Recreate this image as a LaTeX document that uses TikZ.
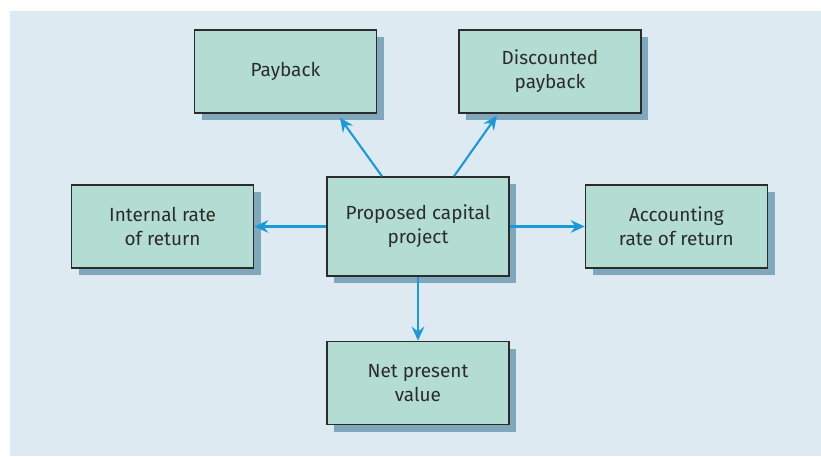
\documentclass[tikz,border=0pt]{standalone}
\usepackage{fontspec}
\setmainfont{Fira Sans}
\usepackage{tikz}
\usetikzlibrary{arrows.meta,shapes,positioning,shadows}

\definecolor{panelbg}{HTML}{DEEAF2}
\definecolor{boxfill}{HTML}{B3DDD2}
\definecolor{boxshadow}{HTML}{7FA8BD}
\definecolor{boxline}{HTML}{2B2B2B}
\definecolor{linkblue}{HTML}{1B9AD7}

\begin{document}
\begin{tikzpicture}[
    method/.style={rectangle, draw=boxline, line width=1pt, fill=boxfill,
      minimum width=4.55cm, minimum height=2.075cm, text centered, align=center,
      text=boxline, font=\fontsize{13.5}{17}\selectfont,
      drop shadow={shadow xshift=0.18cm, shadow yshift=-0.18cm, fill=boxshadow, opacity=1}},
    arrow/.style={draw=linkblue, line width=1.5pt,
      -{Stealth[length=10pt, width=9pt, inset=3.5pt]}}
  ]
    % Panel
    \useasboundingbox (0,0) rectangle (20.525,-11.4);
    \fill[panelbg] (0.25,-0.275) rectangle (20.525,-11.4);

    % Nodes
    \node[method, minimum height=2.475cm] (proj) at (10.45,-5.6625) {Proposed capital\\project};
    \node[method, left=1.8cm of proj] (irr) {Internal rate\\of return};
    \node[method, right=1.875cm of proj] (arr) {Accounting\\rate of return};
    \node[method, below=1.6cm of proj] (npv) {Net present\\value};
    \node[method] (pay) at (7.1375,-1.7875) {Payback};
    \node[method] (dpay) at (13.75,-1.7875) {Discounted\\payback};

    % Arrows
    \draw[arrow] ([xshift=-0.9cm]proj.north) -- ([xshift=1.36cm,yshift=-0.1cm]pay.south);
    \draw[arrow] ([xshift=0.9cm]proj.north) -- ([xshift=-1.33cm,yshift=-0.05cm]dpay.south);
    \draw[arrow] (proj) -- (irr);
    \draw[arrow] (proj) -- (arr);
    \draw[arrow] (proj) -- (npv);
  \end{tikzpicture}
\end{document}
